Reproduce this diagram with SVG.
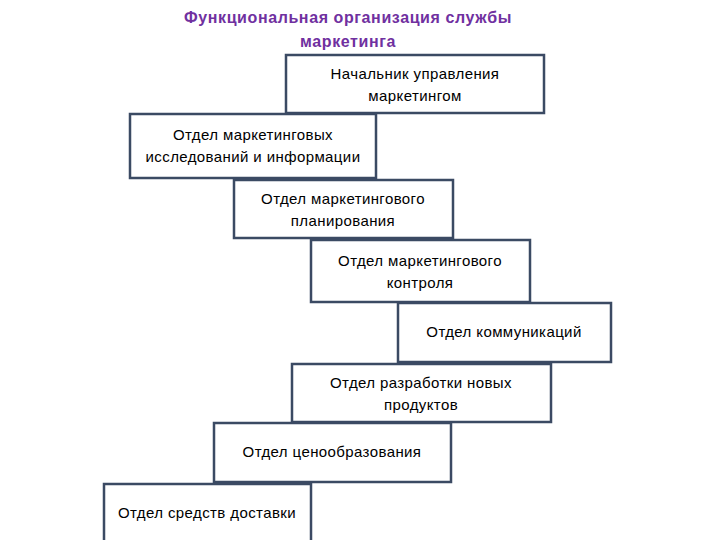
<svg xmlns="http://www.w3.org/2000/svg" width="720" height="540" viewBox="0 0 720 540">
<style>
.b{fill:#fff;stroke:#3b4a63;stroke-width:2.5}
.t{font-family:"Liberation Sans",sans-serif;font-size:15px;letter-spacing:0.4px;fill:#000;text-anchor:middle}
.h{font-family:"Liberation Sans",sans-serif;font-size:16px;letter-spacing:0.6px;font-weight:bold;fill:#7030a0;text-anchor:middle}
</style>
<rect width="720" height="540" fill="#fff"/>
<text class="h" x="348" y="23">Функциональная организация службы</text>
<text class="h" x="348" y="47">маркетинга</text>
<g id="n1"><rect class="b" x="286" y="55" width="258" height="58"/><text class="t" x="415" y="79">Начальник управления</text><text class="t" x="415" y="101">маркетингом</text></g>
<g id="n2"><rect class="b" x="130" y="114" width="246" height="64"/><text class="t" x="253" y="140">Отдел маркетинговых</text><text class="t" x="253" y="162">исследований и информации</text></g>
<g id="n3"><rect class="b" x="234" y="180" width="219" height="58"/><text class="t" x="343" y="204">Отдел маркетингового</text><text class="t" x="343" y="226">планирования</text></g>
<g id="n4"><rect class="b" x="311" y="240" width="219" height="62"/><text class="t" x="420" y="266">Отдел маркетингового</text><text class="t" x="420" y="288">контроля</text></g>
<g id="n5"><rect class="b" x="398" y="303" width="213" height="59"/><text class="t" x="504" y="337">Отдел коммуникаций</text></g>
<g id="n6"><rect class="b" x="292" y="364" width="259" height="58"/><text class="t" x="421" y="388">Отдел разработки новых</text><text class="t" x="421" y="410">продуктов</text></g>
<g id="n7"><rect class="b" x="214" y="423" width="237" height="59"/><text class="t" x="332" y="457">Отдел ценообразования</text></g>
<g id="n8"><rect class="b" x="104" y="484" width="207" height="58"/><text class="t" x="207" y="518">Отдел средств доставки</text></g>
<g id="connectors"/>
</svg>
